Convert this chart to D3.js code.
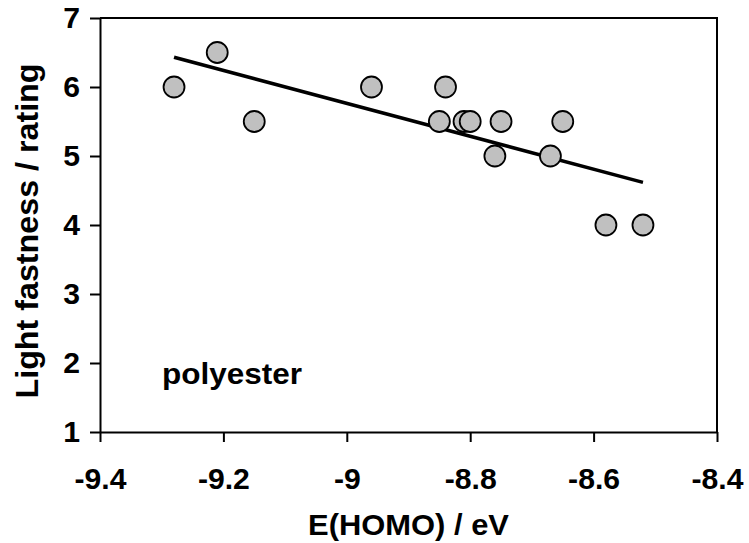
<!DOCTYPE html>
<html>
  <head>
    <meta charset="utf-8" />
    <title>Light fastness vs E(HOMO)</title>
    <script src="https://d3js.org/d3.v7.min.js"></script>
    <style>
      body { margin: 0; background: white; }
      text { font-family: "Liberation Sans", Arial, sans-serif; font-weight: bold; }
    </style>
  </head>
  <body>
    <svg width="749" height="543" id="chart"></svg>
    <script>
      // data
      var homo = [-9.28, -9.21, -9.15, -8.96, -8.84, -8.85, -8.81, -8.80, -8.75, -8.65, -8.76, -8.67, -8.58, -8.52];
      var rating = [6, 6.5, 5.5, 6, 6, 5.5, 5.5, 5.5, 5.5, 5.5, 5, 5, 4, 4];
      var xTicks = [-9.4, -9.2, -9, -8.8, -8.6, -8.4];
      var yTicks = [1, 2, 3, 4, 5, 6, 7];

      var svg = d3.select("#chart");
      var pLeft = 100, pRight = 717, pTop = 18, pBottom = 432;

      var x = d3.scaleLinear().domain([-9.4, -8.4]).range([pLeft, pRight]);
      var y = d3.scaleLinear().domain([1, 7]).range([pBottom, pTop]);

      // stretch text a bit wider like the original
      function widen(sel, k) {
        sel.each(function() {
          var w = this.getComputedTextLength();
          d3.select(this).attr("textLength", w * k).attr("lengthAdjust", "spacingAndGlyphs");
        });
      }

      // plot border (top and right)
      svg.append("path")
        .attr("d", "M" + pLeft + "," + pTop + "H" + pRight + "V" + pBottom)
        .attr("fill", "none").attr("stroke", "black").attr("stroke-width", 2);

      var xAxis = svg.append("g")
        .attr("transform", "translate(0," + pBottom + ")")
        .call(d3.axisBottom(x).tickValues(xTicks).tickSize(10).tickSizeOuter(0).tickPadding(26)
          .tickFormat(function(d) { return String(+d.toFixed(1)); }));
      var yAxis = svg.append("g")
        .attr("transform", "translate(" + pLeft + ",0)")
        .call(d3.axisLeft(y).tickValues(yTicks).tickSize(10).tickSizeOuter(0).tickPadding(10)
          .tickFormat(function(d) { return String(d); }));

      [xAxis, yAxis].forEach(function(a) {
        a.attr("font-size", 29);
        a.select(".domain").attr("stroke-width", 2);
        a.selectAll(".tick line").attr("stroke-width", 2);
        a.selectAll("text").attr("fill", "black")
          .style("font-family", "Liberation Sans, Arial, sans-serif").style("font-weight", "bold");
      });
      xAxis.selectAll("text").call(widen, 1.04);
      yAxis.selectAll("text").call(widen, 1.04);

      // trendline (least squares over the points)
      var mx = d3.mean(homo), my = d3.mean(rating);
      var sxy = d3.sum(homo, function(v, i) { return (v - mx) * (rating[i] - my); });
      var sxx = d3.sum(homo, function(v) { return (v - mx) * (v - mx); });
      var slope = sxy / sxx, icpt = my - slope * mx;
      var xr = d3.extent(homo);
      svg.append("line")
        .attr("x1", x(xr[0])).attr("y1", y(icpt + slope * xr[0]))
        .attr("x2", x(xr[1])).attr("y2", y(icpt + slope * xr[1]))
        .attr("stroke", "black").attr("stroke-width", 3.5);

      svg.selectAll("circle")
        .data(homo)
        .enter().append("circle")
        .attr("cx", function(d) { return x(d); })
        .attr("cy", function(d, i) { return y(rating[i]); })
        .attr("r", 10.5)
        .attr("fill", "#c0c0c0")
        .attr("stroke", "black")
        .attr("stroke-width", 1.8);

      svg.append("text")
        .attr("x", 162).attr("y", 384)
        .attr("font-size", 30)
        .text("polyester")
        .call(widen, 1.05);

      svg.append("text")
        .attr("x", (pLeft + pRight) / 2).attr("y", 535)
        .attr("text-anchor", "middle").attr("font-size", 30)
        .text("E(HOMO) / eV")
        .call(widen, 1.03);

      svg.append("text")
        .attr("transform", "translate(38," + ((pTop + pBottom) / 2 + 6) + ") rotate(-90)")
        .attr("text-anchor", "middle").attr("font-size", 31)
        .text("Light fastness / rating")
        .call(widen, 1.04);
    </script>
  </body>
</html>
